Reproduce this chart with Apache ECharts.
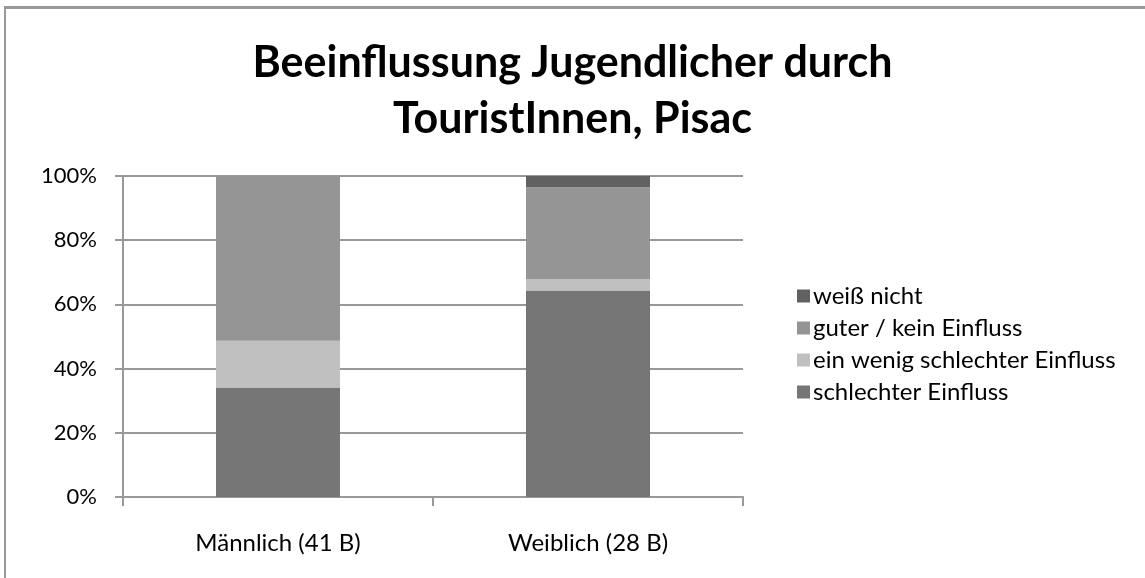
<!DOCTYPE html>
<html>
<head>
<meta charset="utf-8">
<script src="https://cdn.jsdelivr.net/npm/echarts@6/dist/echarts.min.js"></script>
<style>
  html, body { margin: 0; padding: 0; background: #fff; overflow: hidden; width: 1145px; height: 578px; }
  #frame {
    position: absolute; left: 4px; top: 6px; width: 1180px; height: 620px;
    border-left: 2px solid #999; border-top: 3px solid #999;
  }
  #main { position: absolute; left: 0; top: 0; width: 1145px; height: 578px; }
</style>
</head>
<body>
<div id="frame"></div>
<div id="main"></div>
<script>
const categories = ['Männlich (41 B)', 'Weiblich (28 B)'];
const schlecht = [34.1, 64.3];
const einWenig = [14.6, 3.6];
const guter = [51.2, 28.6];
const weissNicht = [0, 3.6];
const yTicks = [0, 20, 40, 60, 80, 100];

const font = 'Lato, "Open Sans", sans-serif';

const chart = echarts.init(document.getElementById('main'));

function bar(name, data, color) {
  return {
    name: name,
    type: 'bar',
    stack: 'total',
    barWidth: '40%',
    data: data,
    itemStyle: { color: color },
    emphasis: { disabled: true }
  };
}

chart.setOption({
  animation: false,
  title: {
    text: 'Beeinflussung Jugendlicher durch\nTouristInnen, Pisac',
    left: 'center',
    top: 30,
    textStyle: { fontFamily: font, fontWeight: 'bold', fontSize: 43, lineHeight: 56, color: '#000' }
  },
  legend: {
    orient: 'vertical',
    left: 792,
    top: 279,
    itemWidth: 13,
    itemHeight: 13,
    itemGap: 8,
    icon: 'rect',
    data: ['weiß nicht', 'guter / kein Einfluss', 'ein wenig schlechter Einfluss', 'schlechter Einfluss'],
    textStyle: { fontFamily: font, fontSize: 24, lineHeight: 24, color: '#000', padding: [0, 0, 0, -2] }
  },
  grid: { left: 123, right: 402, top: 176, bottom: 81 },
  xAxis: {
    type: 'category',
    data: categories,
    axisLine: { lineStyle: { color: '#999', width: 2 } },
    axisTick: { show: true, length: 9, lineStyle: { color: '#999', width: 2 } },
    axisLabel: { fontFamily: font, fontSize: 24, color: '#000', margin: 34 }
  },
  yAxis: {
    type: 'value',
    min: yTicks[0],
    max: yTicks[yTicks.length - 1],
    interval: 20,
    axisLine: { show: true, lineStyle: { color: '#999', width: 2 } },
    axisTick: { show: true, length: 8, lineStyle: { color: '#999', width: 2 } },
    splitLine: { lineStyle: { color: '#999', width: 2 } },
    axisLabel: { fontFamily: font, fontSize: 22, color: '#000', margin: 26, formatter: '{value}%' }
  },
  series: [
    bar('schlechter Einfluss', schlecht, '#767676'),
    bar('ein wenig schlechter Einfluss', einWenig, '#c0c0c0'),
    bar('guter / kein Einfluss', guter, '#959595'),
    bar('weiß nicht', weissNicht, '#616161')
  ]
});
</script>
</body>
</html>
